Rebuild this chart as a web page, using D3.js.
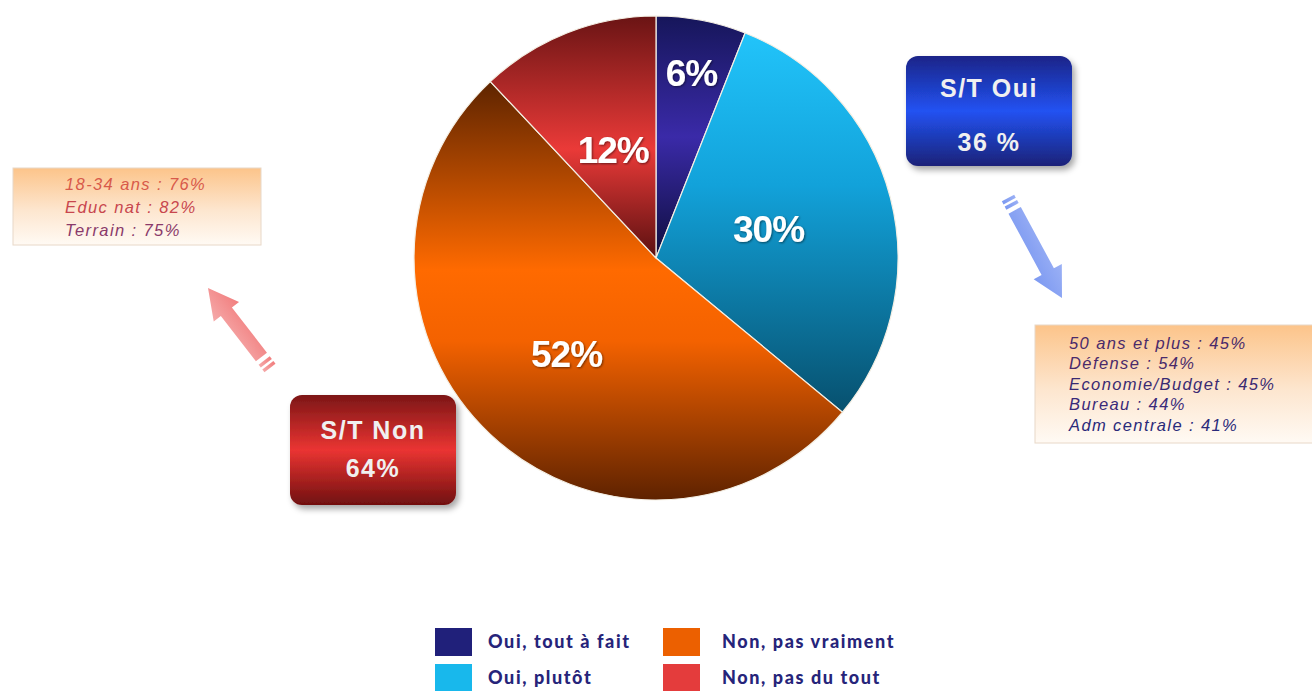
<!DOCTYPE html>
<html>
<head>
<meta charset="utf-8">
<script src="https://cdn.jsdelivr.net/npm/d3@7"></script>
<style>
  body { margin: 0; background: #ffffff; }
  svg { display: block; }
</style>
</head>
<body>
<svg id="chart"></svg>
<script>
const categories = ["Oui, tout à fait", "Oui, plutôt", "Non, pas vraiment", "Non, pas du tout"];
const values = [6, 30, 52, 12];
const sliceLabels = ["6%", "30%", "52%", "12%"];
const totals = [["S/T Oui", "36 %"], ["S/T Non", "64%"]];
const detailsNon = ["18-34 ans : 76%", "Educ nat : 82%", "Terrain : 75%"];
const detailsOui = ["50 ans et plus : 45%", "Défense : 54%", "Economie/Budget : 45%", "Bureau : 44%", "Adm centrale : 41%"];

// gradient stops for every slice, top to bottom
const sliceStops = [
    [["0", "#16165a"], ["0.5", "#3a2aa8"], ["1", "#0e0e3c"]],
    [["0", "#22c4fa"], ["0.4", "#12a2da"], ["1", "#07506e"]],
    [["0", "#5e2400"], ["0.45", "#ff6a00"], ["0.62", "#f46200"], ["1", "#5e2200"]],
    [["0", "#6a1414"], ["0.55", "#ea3a38"], ["1", "#5a1010"]]
];
const legendColors = ["#20207a", "#18b8ec", "#ec6000", "#e43c3c"];

const width = 1312, height = 691;
const cx = 656, cy = 258, radius = 242;

let svg = d3.select("#chart")
    .attr("width", width)
    .attr("height", height);

let defs = svg.append("defs");

function vgrad(id, stops) {
    let g = defs.append("linearGradient")
        .attr("id", id)
        .attr("x1", 0).attr("y1", 0).attr("x2", 0).attr("y2", 1);
    stops.forEach(function (s) {
        g.append("stop").attr("offset", s[0]).attr("stop-color", s[1]);
    });
}
sliceStops.forEach(function (stops, i) { vgrad("slice" + i, stops); });
vgrad("boxOui", [["0", "#1a2488"], ["0.5", "#2252f2"], ["1", "#1a2278"]]);
vgrad("boxNon", [["0", "#7c1616"], ["0.5", "#ea3432"], ["1", "#701010"]]);
vgrad("noteBg", [["0", "#fcc48a"], ["0.55", "#fde6cf"], ["1", "#fffaf4"]]);
vgrad("arrowPink", [["0", "#f4a0a0"], ["1", "#f07070"]]);
vgrad("arrowBlue", [["0", "#90a8f4"], ["1", "#6e8ef0"]]);

let shadow = defs.append("filter").attr("id", "shadow")
    .attr("x", "-20%").attr("y", "-20%").attr("width", "150%").attr("height", "150%");
shadow.append("feDropShadow")
    .attr("dx", 3).attr("dy", 4).attr("stdDeviation", 3)
    .attr("flood-color", "#000").attr("flood-opacity", 0.35);

let textShadow = defs.append("filter").attr("id", "tshadow");
textShadow.append("feDropShadow")
    .attr("dx", 1).attr("dy", 1).attr("stdDeviation", 0.8)
    .attr("flood-color", "#000").attr("flood-opacity", 0.5);

// pie
let pie = d3.pie().sort(null).value(function (d) { return d; });
let arc = d3.arc().innerRadius(0).outerRadius(radius);
let arcs = pie(values);

let pieG = svg.append("g").attr("transform", "translate(" + cx + "," + cy + ")");

pieG.selectAll("path")
    .data(arcs)
    .enter().append("path")
    .attr("d", arc)
    .attr("fill", function (d, i) { return "url(#slice" + i + ")"; })
    .attr("stroke", "#f4efe4")
    .attr("stroke-width", 1.2);

// label distance from center, per slice
const labelPos = [0.78, 0.48, 0.54, 0.48];
pieG.selectAll("text")
    .data(arcs)
    .enter().append("text")
    .attr("transform", function (d, i) {
        let r = radius * labelPos[i];
        let a = (d.startAngle + d.endAngle) / 2;
        return "translate(" + (Math.sin(a) * r) + "," + (-Math.cos(a) * r) + ")";
    })
    .attr("text-anchor", "middle")
    .attr("dy", "0.36em")
    .attr("font-family", "Liberation Sans, Arial, sans-serif")
    .attr("font-weight", "bold")
    .attr("font-size", 37)
    .attr("letter-spacing", -1)
    .attr("fill", "#ffffff")
    .attr("filter", "url(#tshadow)")
    .text(function (d, i) { return sliceLabels[i]; });

// total boxes
function totalBox(x, y, w, h, fill, lines, lineY, size) {
    let g = svg.append("g");
    g.append("rect")
        .attr("x", x).attr("y", y).attr("width", w).attr("height", h)
        .attr("rx", 12)
        .attr("fill", fill)
        .attr("filter", "url(#shadow)");
    lines.forEach(function (t, i) {
        g.append("text")
            .attr("x", x + w / 2)
            .attr("y", lineY[i])
            .attr("text-anchor", "middle")
            .attr("dy", "0.35em")
            .attr("font-family", "Liberation Sans, Arial, sans-serif")
            .attr("font-weight", "bold")
            .attr("font-size", size)
            .attr("letter-spacing", 1.5)
            .attr("fill", "#f0f0f0")
            .text(t);
    });
}
totalBox(906, 56, 166, 110, "url(#boxOui)", totals[0], [88, 142], 25);
totalBox(290, 395, 166, 110, "url(#boxNon)", totals[1], [430, 468], 25);

// note boxes
function noteBox(x, y, w, h, lines, x0, y0, step, colors) {
    let g = svg.append("g");
    g.append("rect")
        .attr("x", x).attr("y", y).attr("width", w).attr("height", h)
        .attr("fill", "url(#noteBg)")
        .attr("stroke", "#e8d8c8")
        .attr("stroke-width", 1);
    lines.forEach(function (t, i) {
        g.append("text")
            .attr("x", x0)
            .attr("y", y0 + i * step)
            .attr("dy", "0.35em")
            .attr("font-family", "Liberation Sans, Arial, sans-serif")
            .attr("font-style", "italic")
            .attr("font-size", 16.5)
            .attr("letter-spacing", 1.4)
            .attr("fill", colors[i])
            .text(t);
    });
}
noteBox(13, 168, 248, 77, detailsNon, 65, 184, 23, ["#d85a4a", "#c8464e", "#8a3a6a"]);
noteBox(1035, 325, 290, 118, detailsOui, 1069, 343, 20.5, ["#4a2a6a", "#4a2a6a", "#3a2a72", "#3a2a7a", "#2a2a7a"]);

// arrows drawn along +x, then rotated
function arrow(x1, y1, x2, y2, fill) {
    let len = Math.hypot(x2 - x1, y2 - y1);
    let ang = Math.atan2(y2 - y1, x2 - x1) * 180 / Math.PI;
    let g = svg.append("g")
        .attr("transform", "translate(" + x1 + "," + y1 + ") rotate(" + ang + ")")
        .attr("opacity", 0.9);
    let head = 30;
    let path = d3.path();
    path.moveTo(14, -7);
    path.lineTo(len - head, -7);
    path.lineTo(len - head, -16);
    path.lineTo(len, 0);
    path.lineTo(len - head, 16);
    path.lineTo(len - head, 7);
    path.lineTo(14, 7);
    path.closePath();
    g.append("path").attr("d", path.toString()).attr("fill", fill);
    [0, 6].forEach(function (o) {
        g.append("rect")
            .attr("x", o).attr("y", -7).attr("width", 3.5).attr("height", 14)
            .attr("fill", fill);
    });
}
arrow(270, 368, 208, 288, "url(#arrowPink)");
arrow(1008, 198, 1062, 298, "url(#arrowBlue)");

// legend
const legendX = [435, 663], legendY = [628, 664];
categories.forEach(function (c, i) {
    let col = Math.floor(i / 2), row = i % 2;
    let g = svg.append("g");
    g.append("rect")
        .attr("x", legendX[col]).attr("y", legendY[row])
        .attr("width", 37).attr("height", 28)
        .attr("fill", legendColors[i]);
    g.append("text")
        .attr("x", legendX[col] + (col === 0 ? 53 : 59))
        .attr("y", legendY[row] + 14)
        .attr("dy", "0.35em")
        .attr("font-family", "Lato, DejaVu Sans, sans-serif")
        .attr("font-weight", 900)
        .attr("font-size", 18)
        .attr("letter-spacing", 1.6)
        .attr("fill", "#26247a")
        .text(c);
});
</script>
</body>
</html>
